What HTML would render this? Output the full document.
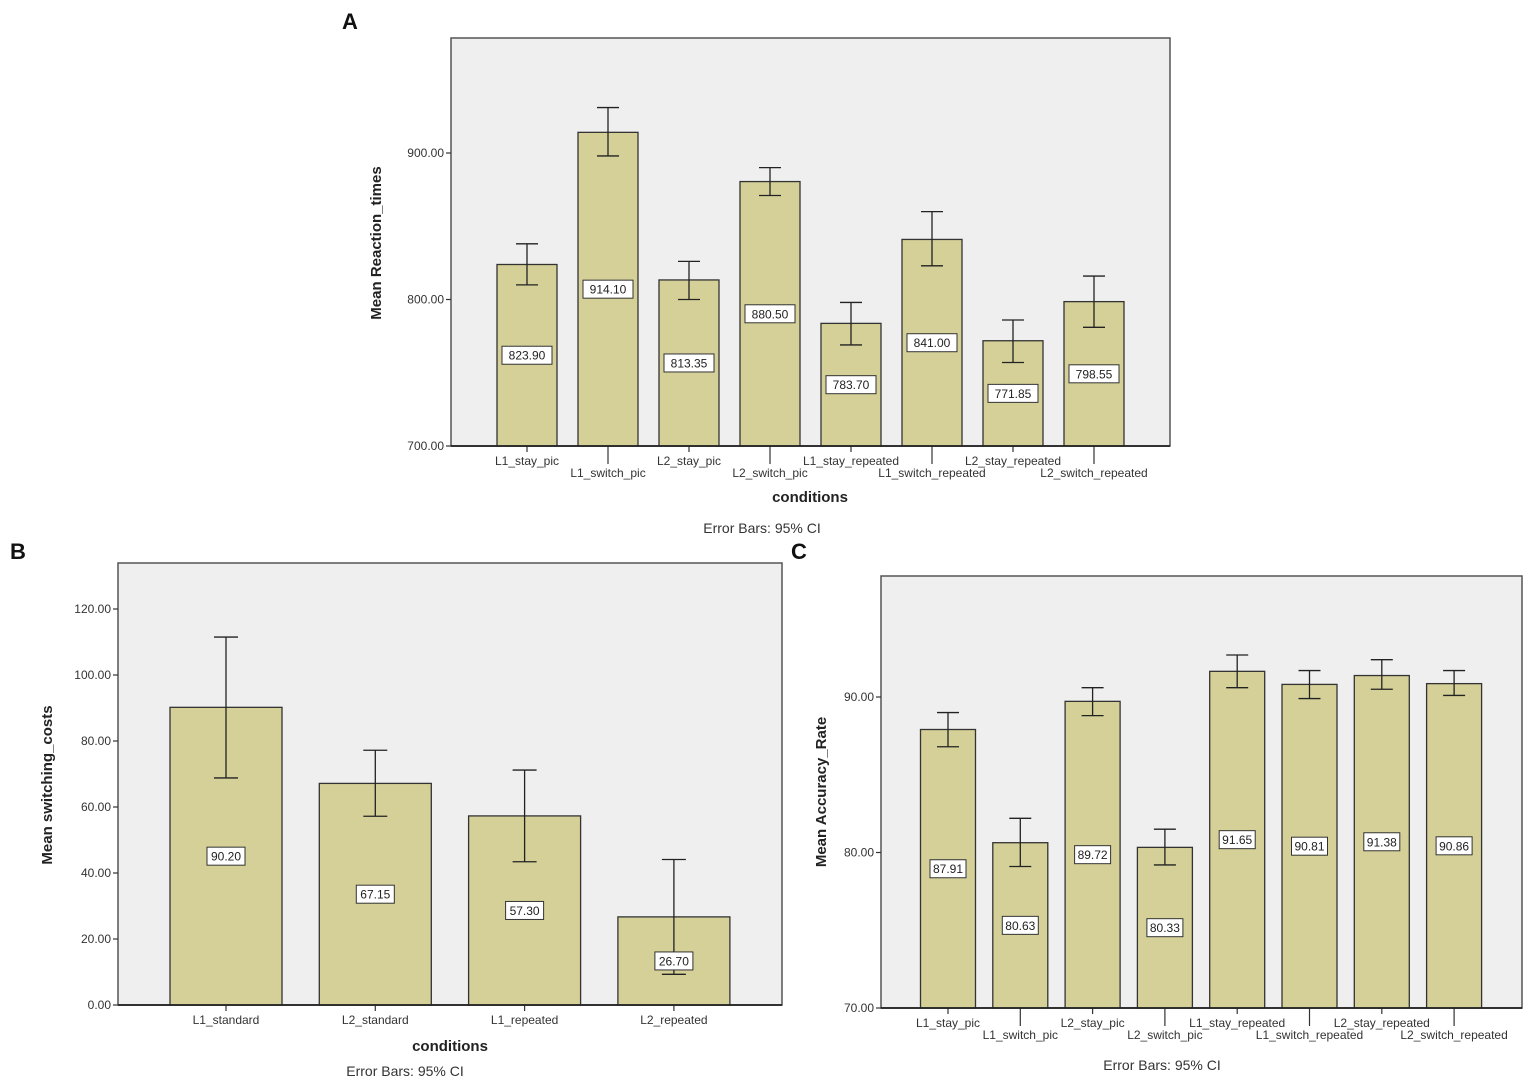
<!DOCTYPE html>
<html><head><meta charset="utf-8"><style>
html,body{margin:0;padding:0;background:#fff;width:1535px;height:1082px;overflow:hidden}
svg{display:block;font-family:"Liberation Sans",sans-serif}
</style></head><body>
<svg id="fig" width="1535" height="1082" viewBox="0 0 1535 1082"></svg>
<script>
const catsA=["L1_stay_pic","L1_switch_pic","L2_stay_pic","L2_switch_pic","L1_stay_repeated","L1_switch_repeated","L2_stay_repeated","L2_switch_repeated"];
const meansA=[823.90,914.10,813.35,880.50,783.70,841.00,771.85,798.55];
const hiA=[838,931,826,890,798,860,786,816];
const loA=[810,898,800,871,769,823,757,781];
const ticksA=[700,800,900];
const catsB=["L1_standard","L2_standard","L1_repeated","L2_repeated"];
const meansB=[90.20,67.15,57.30,26.70];
const hiB=[111.5,77.2,71.2,44.1];
const loB=[68.8,57.2,43.4,9.3];
const ticksB=[0,20,40,60,80,100,120];
const catsC=["L1_stay_pic","L1_switch_pic","L2_stay_pic","L2_switch_pic","L1_stay_repeated","L1_switch_repeated","L2_stay_repeated","L2_switch_repeated"];
const meansC=[87.91,80.63,89.72,80.33,91.65,90.81,91.38,90.86];
const hiC=[89.0,82.2,90.6,81.5,92.7,91.7,92.4,91.7];
const loC=[86.8,79.1,88.8,79.2,90.6,89.9,90.5,90.1];
const ticksC=[70,80,90];

const NS="http://www.w3.org/2000/svg";
const svg=document.getElementById('fig');
function el(t,a,p,txt){const e=document.createElementNS(NS,t);for(const k in a)e.setAttribute(k,a[k]);if(txt!==undefined)e.textContent=txt;(p||svg).appendChild(e);return e;}

function panel(o){
  const g=el('g',{});
  
  
  const bg=el('rect',{x:o.x0,y:o.y0,width:o.x1-o.x0,height:o.y1-o.y0,fill:'#efefef',stroke:'#555','stroke-width':1.5},g);
  
  
  const ys=v=>o.yb-(v-o.vmin)*o.ppu;
  const xs=i=>o.c0+i*o.step;
  o.ticks.forEach(t=>{
    el('line',{x1:o.x0-5,x2:o.x0,y1:ys(t),y2:ys(t),stroke:'#333','stroke-width':1.2},g);
    const tl=el('text',{x:o.x0-7,y:ys(t)+4,'text-anchor':'end','font-size':12,fill:'#333'},g,t.toFixed(2));
    
    
  });
  o.cats.forEach((c,i)=>{
    const cx=xs(i),top=ys(o.means[i]);
    const b=el('rect',{x:cx-o.bw/2,y:top,width:o.bw,height:o.yb-top,fill:'#d4d098',stroke:'#333','stroke-width':1.3},g);
    
    
    const hy=ys(o.hi[i]),ly=ys(o.lo[i]);
    const eb=el('path',{d:`M${cx},${hy}V${ly}M${cx-o.cap},${hy}H${cx+o.cap}M${cx-o.cap},${ly}H${cx+o.cap}`,stroke:'#222','stroke-width':1.3,fill:'none'},g);
    
    
    const my=(top+o.yb)/2, lw=o.lw;
    el('rect',{x:cx-lw/2,y:my-9,width:lw,height:18,fill:'#fff',stroke:'#333','stroke-width':1},g);
    const vl=el('text',{x:cx,y:my+4.5,'text-anchor':'middle','font-size':12,fill:'#222'},g,o.means[i].toFixed(2));
    
    
    const odd=o.alt&&i%2==1;
    el('line',{x1:cx,x2:cx,y1:o.yb,y2:o.yb+(odd?18:6),stroke:'#333','stroke-width':1.2},g);
    const xl=el('text',{x:cx,y:o.yb+(odd?31:19),'text-anchor':'middle','font-size':12,fill:'#333'},g,c);
    
    
  });
  el('line',{x1:o.x0,x2:o.x1,y1:o.yb,y2:o.yb,stroke:'#222','stroke-width':1.8},g);
  const yt=el('text',{x:0,y:0,transform:`translate(${o.ytx},${o.yty}) rotate(-90)`,'text-anchor':'middle','font-size':15,'font-weight':'bold',fill:'#222'},g,o.ytitle);
  
  
  if(o.xtitle){const xt=el('text',{x:o.xtx,y:o.xty,'text-anchor':'middle','font-size':15,'font-weight':'bold',fill:'#222'},g,'conditions');
    
    }
  const n=el('text',{x:o.ntx,y:o.nty,'text-anchor':'middle','font-size':14,fill:'#333'},g,'Error Bars: 95% CI');
  
  
  const L=el('text',{x:o.Lx,y:o.Ly,'font-size':22,'font-weight':'bold',fill:'#111'},g,o.letter);
  
  
}

panel({name:'panel-a-reaction-times',x0:451,x1:1170,y0:38,y1:446,yb:446,vmin:700,ppu:1.465,c0:527,step:81,bw:60,cap:11,lw:50,
 cats:catsA,means:meansA,hi:hiA,lo:loA,ticks:ticksA,alt:true,ytitle:'Mean Reaction_times',ytx:381,yty:243,
 xtitle:true,xtx:810,xty:502,ntx:762,nty:533,letter:'A',Lx:342,Ly:29});
panel({name:'panel-b-switching-costs',x0:118,x1:782,y0:563,y1:1005,yb:1005,vmin:0,ppu:3.3,c0:226,step:149.3,bw:112,cap:12,lw:38,
 cats:catsB,means:meansB,hi:hiB,lo:loB,ticks:ticksB,alt:false,ytitle:'Mean switching_costs',ytx:52,yty:785,
 xtitle:true,xtx:450,xty:1051,ntx:405,nty:1076,letter:'B',Lx:10,Ly:559});
panel({name:'panel-c-accuracy-rate',x0:881,x1:1522,y0:576,y1:1008,yb:1008,vmin:70,ppu:15.55,c0:948,step:72.3,bw:55,cap:11,lw:36,
 cats:catsC,means:meansC,hi:hiC,lo:loC,ticks:ticksC,alt:true,ytitle:'Mean Accuracy_Rate',ytx:826,yty:792,
 xtitle:false,ntx:1162,nty:1070,letter:'C',Lx:791,Ly:559});
</script>
</body></html>
